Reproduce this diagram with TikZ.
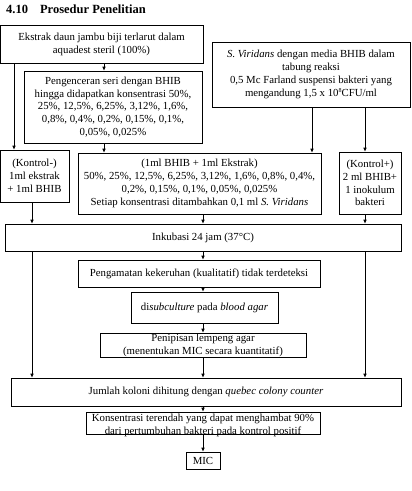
\documentclass[tikz,border=0pt]{standalone}
\usepackage{fontspec}
\setmainfont{Liberation Serif}
\usepackage{xcolor}
\usepackage{tikz}
\usetikzlibrary{arrows.meta}
\definecolor{ink}{HTML}{000000}
\tikzset{
  box/.style={draw=ink, line width=0.6pt, align=center, inner sep=0pt,
    font=\fontsize{10.8}{12.8}\selectfont},
  arr/.style={draw=ink, line width=0.6pt, -{Latex[length=4pt,width=3.5pt]}},
  ttl/.style={font=\fontsize{12.5}{14}\selectfont\bfseries, inner sep=0pt, anchor=west},
}

\begin{document}
\begin{tikzpicture}[x=1pt,y=-1pt]
  \useasboundingbox (0,0) rectangle (412,491);
  \node[ttl] (title) at (6,9) {4.10\hspace{12pt}Prosedur Penelitian};
  % top row
  \node[box, minimum width=203pt, minimum height=38pt] (ekstrak) at (101.5,44)
    {Ekstrak daun jambu biji terlarut dalam\\aquadest steril (100\%)};
  \node[box, minimum width=178pt, minimum height=72pt] (peng) at (113,107)
    {Pengenceran seri dengan BHIB\\hingga didapatkan konsentrasi 50\%,\\25\%, 12,5\%, 6,25\%, 3,12\%, 1,6\%,\\0,8\%, 0,4\%, 0,2\%, 0,15\%, 0,1\%,\\0,05\%, 0,025\%};
  \node[box, minimum width=198pt, minimum height=65pt] (sv) at (311,74.5)
    {\textit{S. Viridans} dengan media BHIB dalam\\tabung reaksi\\0,5 Mc Farland suspensi bakteri yang\\mengandung 1,5 x 10\raisebox{3.5pt}{\fontsize{6}{6}\selectfont 8}CFU/ml};
  % middle row
  \node[box, minimum width=69pt, minimum height=52pt] (kmin) at (34.5,176)
    {(Kontrol-)\\1ml ekstrak\\+ 1ml BHIB};
  \node[box, minimum width=243pt, minimum height=61pt] (mid) at (199.5,183.5)
    {(1ml BHIB + 1ml Ekstrak)\\50\%, 25\%, 12,5\%, 6,25\%, 3,12\%, 1,6\%, 0,8\%, 0,4\%,\\0,2\%, 0,15\%, 0,1\%, 0,05\%, 0,025\%\\Setiap konsentrasi ditambahkan 0,1 ml \textit{S. Viridans}};
  \node[box, minimum width=62pt, minimum height=62pt] (kplus) at (370,183)
    {(Kontrol+)\\2 ml BHIB+\\1 inokulum\\bakteri};
  % steps
  \node[box, minimum width=396pt, minimum height=27pt] (inkub) at (203,237.5)
    {Inkubasi 24 jam (37°C)};
  \node[box, minimum width=242pt, minimum height=27pt] (amat) at (199,273.5)
    {Pengamatan kekeruhan (kualitatif) tidak terdeteksi};
  \node[box, minimum width=147pt, minimum height=31pt] (sub) at (204.5,307.5)
    {di\textit{subculture} pada \textit{blood agar}};
  \node[box, minimum width=206pt, minimum height=24pt] (penip) at (203,345)
    {Penipisan lempeng agar\\(menentukan MIC secara kuantitatif)};
  \node[box, minimum width=390pt, minimum height=28pt] (jumlah) at (206,392)
    {Jumlah koloni dihitung dengan \textit{quebec colony counter}};
  \node[box, minimum width=234pt, minimum height=22pt, text height=22pt, text depth=0pt] (kons) at (203,423)
    {Konsentrasi terendah yang dapat menghambat 90\%\\dari pertumbuhan bakteri pada kontrol positif};
  \node[box, minimum width=34pt, minimum height=17pt] (mic) at (203,460.5) {MIC};
  % columns for the connectors
  \coordinate (cA) at (14,0);
  \coordinate (cB) at (104,0);
  \coordinate (cC) at (32,0);
  \coordinate (cD) at (203,0);
  \coordinate (cE) at (312,0);
  \coordinate (cF) at (365,0);
  \draw[arr] (ekstrak.south -| cB) -- (peng.north -| cB);
  \draw[arr] (ekstrak.south -| cA) -- (kmin.north -| cA);
  \draw[arr] (sv.south -| cE) -- (mid.north -| cE);
  \draw[arr] (sv.south -| cF) -- (kplus.north -| cF);
  \draw[arr] (peng.south -| cB) -- (mid.north -| cB);
  \draw[arr] (kmin.south -| cC) -- (inkub.north -| cC);
  \draw[arr] (mid.south -| cD) -- (inkub.north -| cD);
  \draw[arr] (kplus.south -| cF) -- (inkub.north -| cF);
  \draw[arr] (inkub.south -| cD) -- (amat.north -| cD);
  \draw[arr] (inkub.south -| cC) -- (jumlah.north -| cC);
  \draw[arr] (inkub.south -| cF) -- (jumlah.north -| cF);
  \draw[arr] (amat.south -| cD) -- (sub.north -| cD);
  \draw[arr] (sub.south -| cD) -- (penip.north -| cD);
  \draw[arr] (penip.south -| cD) -- (jumlah.north -| cD);
  \draw[arr] (jumlah.south -| cD) -- (kons.north -| cD);
  \draw[arr] (kons.south -| cD) -- (mic.north -| cD);
\end{tikzpicture}
\end{document}
